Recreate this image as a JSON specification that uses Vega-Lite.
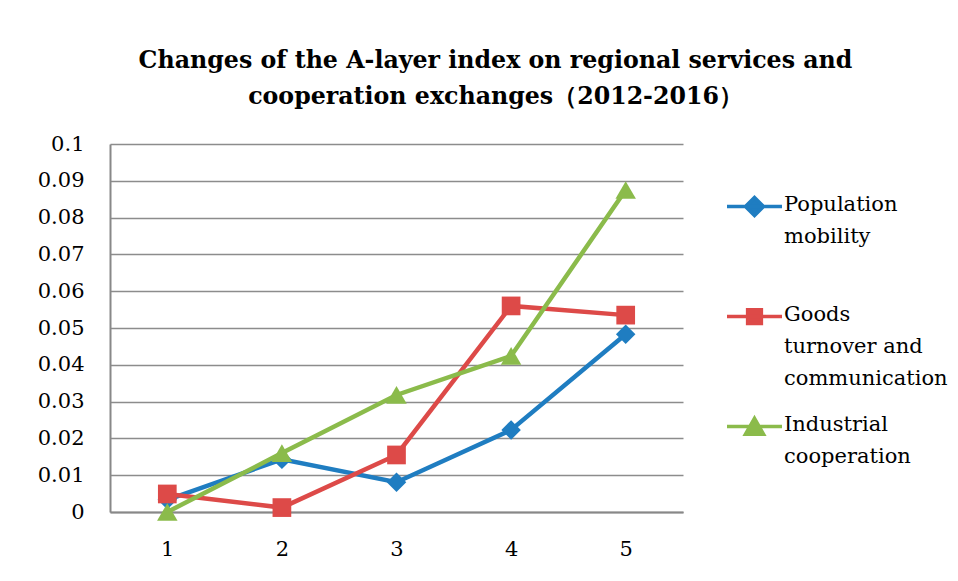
{
  "$schema": "https://vega.github.io/schema/vega-lite/v6.json",
  "width": 573,
  "height": 368,
  "autosize": {"type": "none"},
  "padding": {"left": 110, "top": 144, "right": 275, "bottom": 69},
  "background": "white",
  "title": {
    "text": ["Changes of the A-layer index on regional services and", "cooperation exchanges（2012-2016）"],
    "font": "DejaVu Serif",
    "fontSize": 23.7,
    "fontWeight": "bold",
    "color": "#000000",
    "anchor": "middle",
    "frame": "group",
    "dx": 99,
    "offset": 24,
    "lineHeight": 36
  },
  "data": {
    "values": [
      {"year": "1", "series": "Population mobility", "value": 0.0033},
      {"year": "2", "series": "Population mobility", "value": 0.0143},
      {"year": "3", "series": "Population mobility", "value": 0.0081},
      {"year": "4", "series": "Population mobility", "value": 0.0223},
      {"year": "5", "series": "Population mobility", "value": 0.0483},
      {"year": "1", "series": "Goods turnover and communication", "value": 0.0049},
      {"year": "2", "series": "Goods turnover and communication", "value": 0.0012},
      {"year": "3", "series": "Goods turnover and communication", "value": 0.0155},
      {"year": "4", "series": "Goods turnover and communication", "value": 0.056},
      {"year": "5", "series": "Goods turnover and communication", "value": 0.0535},
      {"year": "1", "series": "Industrial cooperation", "value": 0.0},
      {"year": "2", "series": "Industrial cooperation", "value": 0.016},
      {"year": "3", "series": "Industrial cooperation", "value": 0.0318},
      {"year": "4", "series": "Industrial cooperation", "value": 0.0424},
      {"year": "5", "series": "Industrial cooperation", "value": 0.0875}
    ]
  },
  "encoding": {
    "x": {
      "field": "year",
      "type": "ordinal",
      "scale": {"type": "point", "padding": 0.5},
      "axis": {
        "title": null,
        "labelAngle": 0,
        "labelFont": "DejaVu Serif",
        "labelFontSize": 21,
        "labelColor": "#000000",
        "labelPadding": 26,
        "ticks": false,
        "domainColor": "#888888",
        "domainWidth": 2,
        "grid": false
      }
    },
    "y": {
      "field": "value",
      "type": "quantitative",
      "scale": {"domain": [0, 0.1], "nice": false, "zero": true},
      "axis": {
        "title": null,
        "values": [0, 0.01, 0.02, 0.03, 0.04, 0.05, 0.06, 0.07, 0.08, 0.09, 0.1],
        "format": "~g",
        "labelFont": "DejaVu Serif",
        "labelFontSize": 21,
        "labelColor": "#000000",
        "labelPadding": 26,
        "ticks": false,
        "domainColor": "#888888",
        "domainWidth": 2,
        "grid": true,
        "gridColor": "#8c8c8c",
        "gridWidth": 1.6
      }
    },
    "color": {
      "field": "series",
      "type": "nominal",
      "sort": ["Population mobility", "Goods turnover and communication", "Industrial cooperation"],
      "scale": {
        "domain": ["Population mobility", "Goods turnover and communication", "Industrial cooperation"],
        "range": ["#1f7dc1", "#dd4a48", "#8bbb4b"]
      },
      "legend": {
        "title": null,
        "orient": "none",
        "legendX": 615,
        "legendY": 33,
        "symbolSize": 3025,
        "symbolStrokeWidth": 3,
        "labelFont": "DejaVu Serif",
        "labelFontSize": 21,
        "labelColor": "#000000",
        "labelOffset": 0,
        "labelLimit": 400,
        "labelBaseline": "top",
        "gridAlign": "all",
        "rowPadding": 8,
        "labelExpr": "datum.value == 'Population mobility' ? ['Population', 'mobility'] : datum.value == 'Goods turnover and communication' ? ['Goods', 'turnover and', 'communication'] : ['Industrial', 'cooperation']",
        "encode": {
          "labels": {
            "update": {
              "lineHeight": {"value": 32},
              "dy": {"value": -13}
            }
          },
          "symbols": {
            "update": {
              "shape": {"signal": "datum.value == 'Population mobility' ? 'M-1,0H1M0,-0.33L0.33,0L0,0.33L-0.33,0Z' : datum.value == 'Goods turnover and communication' ? 'M-1,0H1M-0.25,-0.25H0.25V0.25H-0.25Z' : 'M-1,0H1M0,-0.3L0.33,0.28H-0.33Z'"},
              "fill": {"scale": "color", "field": "value"},
              "stroke": {"scale": "color", "field": "value"},
              "strokeWidth": {"value": 3.5},
              "opacity": {"value": 1}
            }
          }
        }
      }
    }
  },
  "layer": [
    {
      "transform": [{"filter": "datum.series == 'Population mobility'"}],
      "mark": {"type": "line", "strokeWidth": 4.5},
      "encoding": {}
    },
    {
      "transform": [{"filter": "datum.series == 'Population mobility'"}],
      "mark": {"type": "point", "filled": true, "opacity": 1, "shape": "diamond", "size": 380},
      "encoding": {}
    },
    {
      "transform": [{"filter": "datum.series == 'Goods turnover and communication'"}],
      "mark": {"type": "line", "strokeWidth": 4.5},
      "encoding": {}
    },
    {
      "transform": [{"filter": "datum.series == 'Goods turnover and communication'"}],
      "mark": {"type": "point", "filled": true, "opacity": 1, "shape": "square", "size": 350},
      "encoding": {}
    },
    {
      "transform": [{"filter": "datum.series == 'Industrial cooperation'"}],
      "mark": {"type": "line", "strokeWidth": 4.5},
      "encoding": {}
    },
    {
      "transform": [{"filter": "datum.series == 'Industrial cooperation'"}],
      "mark": {"type": "point", "filled": true, "opacity": 1, "shape": "triangle-up", "size": 420},
      "encoding": {}
    }
  ],
  "config": {
    "view": {"stroke": null}
  }
}
